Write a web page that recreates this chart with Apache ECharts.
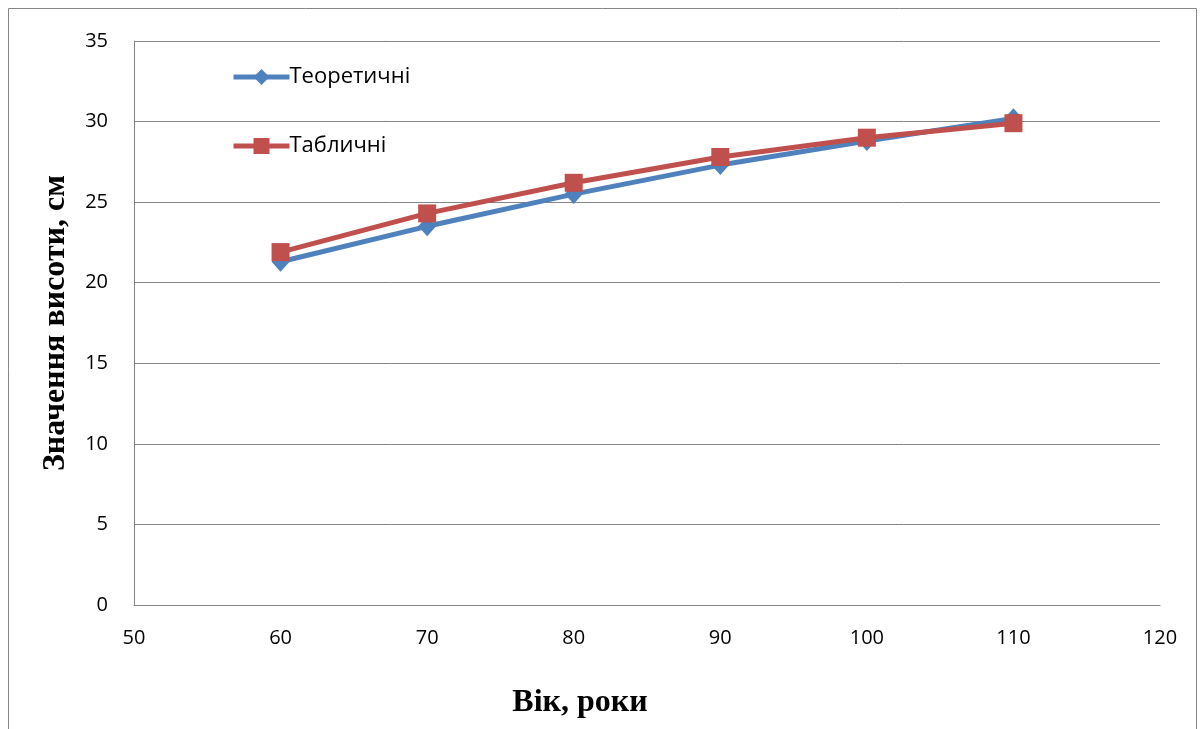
<!DOCTYPE html>
<html><head><meta charset="utf-8">
<script src="https://cdn.jsdelivr.net/npm/echarts@6/dist/echarts.min.js"></script>
<style>html,body{margin:0;padding:0;background:#fff}#c{width:1200px;height:729px}</style>
</head><body><div id="c"></div>
<script>
var ages = [60, 70, 80, 90, 100, 110];
var theoretical = [21.3, 23.5, 25.5, 27.3, 28.8, 30.2];
var tabular = [21.9, 24.3, 26.2, 27.8, 29.0, 29.9];
var seriesNames = ['Теоретичні', 'Табличні'];
var xTitle = 'Вік, роки';
var yTitle = 'Значення висоти, см';

function pairs(xs, ys){ return xs.map(function(x,i){ return [x, ys[i]]; }); }

var chart = echarts.init(document.getElementById('c'), null, {renderer:'canvas'});
var labelFont = {color:'#000', fontSize:20, fontFamily:'"Open Sans", "Noto Sans", sans-serif'};
var titleFont = {color:'#000', fontSize:32, fontWeight:'bold', fontFamily:'"Liberation Serif", "DejaVu Serif", serif'};
chart.setOption({
  animation:false,
  backgroundColor:'#fff',
  graphic:[{type:'rect', shape:{x:8.5,y:8.5,width:1188,height:740}, style:{fill:'none', stroke:'#868686', lineWidth:1}, silent:true}],
  grid:{left:134, right:40, top:41, bottom:124, containLabel:false},
  legend:{
    orient:'vertical', left:226, top:61, itemWidth:56, itemHeight:20, itemGap:47,
    lineStyle:{width:5},
    textStyle:{color:'#000', fontSize:22, fontFamily:'"Open Sans", "Noto Sans", sans-serif', padding:[0,0,0,-5]},
    data:seriesNames
  },
  xAxis:{
    type:'value', min:50, max:120, interval:10,
    axisLine:{show:true, lineStyle:{color:'#868686', width:1}},
    axisTick:{show:false},
    splitLine:{show:false},
    axisLabel:Object.assign({margin:23}, labelFont),
    name:xTitle, nameLocation:'middle', nameGap:82,
    nameTextStyle:Object.assign({padding:[0,134,0,0]}, titleFont)
  },
  yAxis:{
    type:'value', min:0, max:35, interval:5,
    axisLine:{show:true, lineStyle:{color:'#868686', width:1}},
    axisTick:{show:false},
    splitLine:{show:true, lineStyle:{color:'#868686', width:1}},
    axisLabel:Object.assign({margin:26}, labelFont),
    name:yTitle, nameLocation:'middle', nameGap:62, nameRotate:90,
    nameTextStyle:Object.assign({padding:[0,0,0,0]}, titleFont)
  },
  series:[
    {name:seriesNames[0], type:'line', data:pairs(ages, theoretical),
     symbol:'diamond', symbolSize:[18,20],
     lineStyle:{color:'#4F81BD', width:5}, itemStyle:{color:'#4F81BD'}},
    {name:seriesNames[1], type:'line', data:pairs(ages, tabular),
     symbol:'rect', symbolSize:18,
     lineStyle:{color:'#C0504D', width:5}, itemStyle:{color:'#C0504D'}}
  ]
});
</script></body></html>
